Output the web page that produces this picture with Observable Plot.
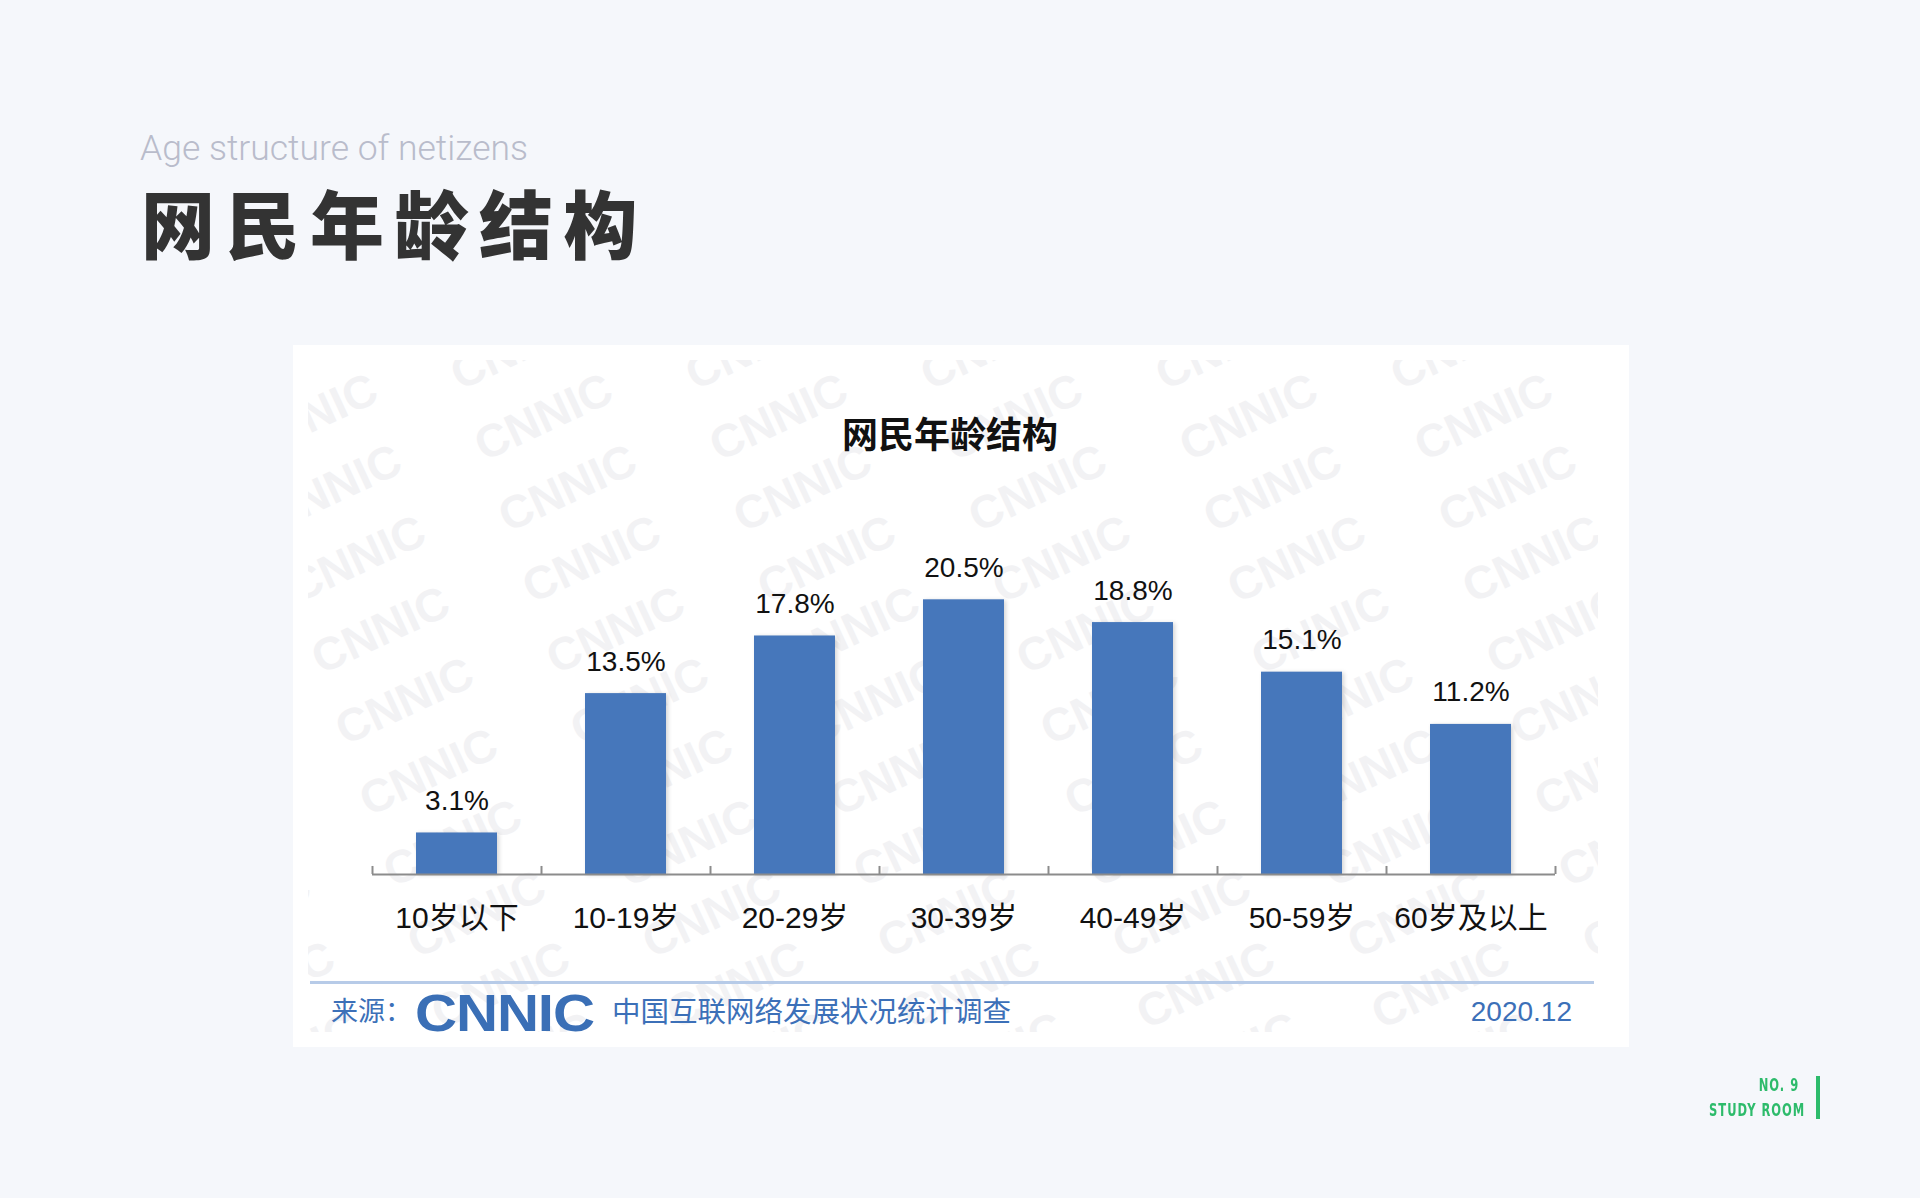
<!DOCTYPE html>
<html>
<head>
<meta charset="utf-8">
<script src="https://cdn.jsdelivr.net/npm/d3@7"></script>
<script src="https://cdn.jsdelivr.net/npm/@observablehq/plot@0.6"></script>
<style>
  html, body { margin: 0; padding: 0; }
  body { width: 1920px; height: 1198px; background: #f5f7fb; position: relative; overflow: hidden; font-family: "Liberation Sans", "Noto Sans CJK SC", sans-serif; }
  .abs { position: absolute; white-space: nowrap; }
  #eng { left: 140px; top: 131px; font-family: Roboto, sans-serif; font-weight: 300; font-size: 35.5px; line-height: 1; color: #b9bccb; }
  #big { left: 141px; top: 184px; font-family: "Noto Sans CJK SC", sans-serif; font-weight: 900; font-size: 74px; line-height: 1; letter-spacing: 10.5px; color: #333333; }
  #panel { left: 293px; top: 345px; width: 1336px; height: 702px; background: #ffffff; overflow: hidden; }
  #wm { position: absolute; left: 15px; top: 15px; }
  #ctitle { left: 0; width: 1314px; text-align: center; top: 69px; font-family: "Noto Sans CJK SC", sans-serif; font-weight: 700; font-size: 36px; line-height: 1; color: #111; }
  #chart { position: absolute; left: 0; top: 175px; }
  #chart g[aria-label="bar"] rect { filter: drop-shadow(2px 1px 2px rgba(0,0,0,0.16)); }
  #sep { left: 17px; top: 636px; width: 1284px; height: 3px; background: #b7cbe8; }
  .blue { color: #3c70b8; font-family: "Noto Sans CJK SC", sans-serif; line-height: 1; }
  #src { left: 38px; top: 651px; font-size: 27px; }
  #logo { left: 122px; top: 642px; font-family: "Liberation Sans", sans-serif; font-weight: 700; font-size: 52px; letter-spacing: -1px; transform: scaleX(1.12); transform-origin: left top; color: #3a6fb6; }
  #survey { left: 319px; top: 651px; font-size: 28.5px; }
  #date { right: 57px; top: 653px; font-family: "Liberation Sans", sans-serif; font-size: 28px; }
  .green { font-family: "DejaVu Sans", sans-serif; font-weight: 700; font-size: 18px; line-height: 1; letter-spacing: 1.5px; color: #2dbb6b; transform: scaleX(0.64); transform-origin: right top; }
  #green1 { top: 1076px; right: 121px; }
  #green2 { top: 1101px; right: 115px; }
  #gbar { left: 1816px; top: 1076px; width: 4px; height: 43px; background: #2dbb6b; }
</style>
</head>
<body>
<div class="abs" id="eng">Age structure of netizens</div>
<div class="abs" id="big">网民年龄结构</div>
<div class="abs" id="panel">
  <svg id="wm" width="1290" height="672"></svg>
  <div class="abs" id="ctitle">网民年龄结构</div>
  <div id="chart"></div>
  <div class="abs" id="sep"></div>
  <div class="abs blue" id="src">来源：</div>
  <div class="abs blue" id="logo">CNNIC</div>
  <div class="abs blue" id="survey">中国互联网络发展状况统计调查</div>
  <div class="abs blue" id="date">2020.12</div>
</div>
<div class="abs green" id="green1">NO. 9</div>
<div class="abs green" id="green2">STUDY ROOM</div>
<div class="abs" id="gbar"></div>
<script>
const categories = ["10岁以下", "10-19岁", "20-29岁", "30-39岁", "40-49岁", "50-59岁", "60岁及以上"];
const shares = [3.1, 13.5, 17.8, 20.5, 18.8, 15.1, 11.2];
const shareLabels = ["3.1%", "13.5%", "17.8%", "20.5%", "18.8%", "15.1%", "11.2%"];

// faint background watermark (decoration), tiled over the chart image area
const wm = d3.select("#wm");
for (let r = -1; r < 11; r++) {
  for (let c = -2; c < 7; c++) {
    const x = 237 + c * 235 + r * 24, y = 60 + r * 71;
    wm.append("text")
      .attr("x", x).attr("y", y)
      .attr("text-anchor", "middle")
      .attr("dominant-baseline", "middle")
      .attr("transform", `rotate(-25 ${x} ${y})`)
      .attr("font-family", "Liberation Sans, sans-serif")
      .attr("font-weight", 700)
      .attr("font-size", 46)
      .attr("fill", "#f2f2f4")
      .text("CNNIC");
  }
}

const rows = categories.map((c, i) => ({category: c, share: shares[i], label: shareLabels[i]}));
const W = 1336, ML = 79, MR = 74;
const step = (W - ML - MR) / categories.length;
const axisColor = "#8c8c8c";
const font = "'Liberation Sans', 'Noto Sans CJK SC', sans-serif";

const chart = Plot.plot({
  width: W,
  height: 434,
  marginLeft: ML,
  marginRight: MR,
  marginTop: 19,
  marginBottom: 80,
  style: {background: "transparent", fontFamily: font, overflow: "visible"},
  x: {domain: categories, paddingInner: 0.52, paddingOuter: 0.26, label: null},
  y: {domain: [0, 25], axis: null},
  marks: [
    Plot.barY(rows, {x: "category", y: "share", fill: "#4677bb"}),
    Plot.ruleY([0], {stroke: axisColor, strokeWidth: 2}),
    Plot.ruleX(categories, {x: d => d, dx: -step / 2, y1: 0, y2: 0.6, stroke: axisColor, strokeWidth: 2}),
    Plot.ruleX([categories[categories.length - 1]], {x: d => d, dx: step / 2, y1: 0, y2: 0.6, stroke: axisColor, strokeWidth: 2}),
    Plot.text(rows, {x: "category", y: "share", text: "label", dy: -32, fontSize: 28, fill: "#111"}),
    Plot.axisX({tickSize: 0, tickPadding: 32, fontSize: 30, fill: "#111", label: null})
  ]
});
document.getElementById("chart").appendChild(chart);
</script>
</body>
</html>
